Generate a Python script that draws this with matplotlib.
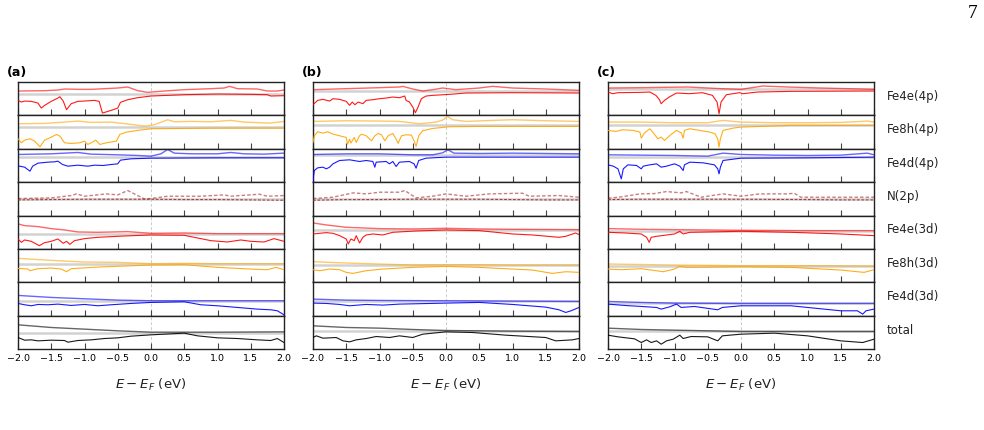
import numpy as np
import matplotlib.pyplot as plt

rows = ["Fe4e(4p)", "Fe8h(4p)", "Fe4d(4p)", "N(2p)",
        "Fe4e(3d)", "Fe8h(3d)", "Fe4d(3d)", "total"]
row_colors = ["red", "orange", "blue", "brown", "red", "orange", "blue", "black"]
xticks = [-2.0, -1.5, -1.0, -0.5, 0.0, 0.5, 1.0, 1.5, 2.0]

# (E - E_F, DOS) pairs, arbitrary units
# up = spin up (above zero line), dn = spin down (below)

# ---- panel (a) ----
a_fe4e4p_up = [(-2.0, 0.8), (-1.6, 0.9), (-1.4, 1.1), (-1.3, 1.4), (-1.1, 1.3), (-0.9, 1.3), (-0.7, 1.5),
               (-0.5, 1.7), (-0.35, 2.0), (-0.2, 0.9), (-0.05, 0.4), (0.2, 0.8), (0.5, 1.2), (0.9, 1.5),
               (1.1, 1.7), (1.18, 2.2), (1.3, 1.5), (1.6, 1.4), (1.75, 0.8), (1.9, 0.8), (2.0, 1.1)]
a_fe4e4p_dn = [(-2.0, -2.0), (-1.95, -2.5), (-1.9, -2.2), (-1.8, -2.3), (-1.7, -2.8), (-1.65, -4.3),
               (-1.6, -3.5), (-1.5, -2.3), (-1.4, -1.3), (-1.37, -0.9), (-1.32, -2.2), (-1.27, -4.8),
               (-1.2, -3.0), (-1.1, -2.3), (-1.0, -2.2), (-0.85, -2.0), (-0.78, -2.3), (-0.73, -5.8),
               (-0.6, -5.0), (-0.5, -4.3), (-0.46, -2.6), (-0.35, -1.8), (-0.2, -1.2), (0.0, -0.7),
               (0.5, -0.3), (1.0, -0.1), (1.5, -0.2), (1.75, -0.3), (1.8, -0.7), (2.0, -0.6)]
a_fe8h4p_up = [(-2.0, 1.0), (-1.6, 1.1), (-1.3, 1.5), (-1.1, 1.8), (-0.9, 1.4), (-0.6, 1.5), (-0.3, 0.8),
               (-0.1, 0.3), (0.05, 0.7), (0.25, 2.2), (0.35, 1.6), (0.6, 1.7), (0.9, 1.6), (1.2, 2.0),
               (1.4, 1.5), (1.65, 1.3), (1.8, 1.2), (2.0, 1.7)]
a_fe8h4p_dn = [(-2.0, -3.5), (-1.95, -4.7), (-1.9, -3.9), (-1.82, -3.5), (-1.75, -4.2), (-1.67, -5.9),
               (-1.6, -3.9), (-1.52, -3.2), (-1.42, -2.2), (-1.37, -2.7), (-1.3, -4.7), (-1.2, -4.9),
               (-1.07, -4.7), (-1.0, -4.2), (-0.95, -5.2), (-0.88, -4.5), (-0.83, -3.9), (-0.77, -5.2),
               (-0.67, -4.7), (-0.52, -4.2), (-0.47, -2.2), (-0.37, -1.5), (-0.17, -0.9), (0.0, -0.5),
               (0.5, -0.4), (1.0, -0.3), (1.5, -0.3), (2.0, -0.3)]
a_fe4d4p_up = [(-2.0, 0.8), (-1.5, 1.0), (-1.1, 1.4), (-0.9, 0.9), (-0.5, 0.7), (-0.2, 0.5), (0.0, 0.3),
               (0.15, 1.0), (0.25, 2.3), (0.35, 1.2), (0.6, 1.0), (1.0, 1.0), (1.2, 1.4), (1.4, 1.0),
               (1.7, 0.9), (2.0, 1.2)]
a_fe4d4p_dn = [(-2.0, -2.6), (-1.9, -3.0), (-1.82, -4.2), (-1.78, -2.7), (-1.7, -1.8), (-1.55, -1.5),
               (-1.45, -1.4), (-1.4, -1.2), (-1.33, -2.2), (-1.25, -2.7), (-1.1, -2.4), (-0.95, -2.7),
               (-0.85, -2.4), (-0.72, -2.5), (-0.6, -2.2), (-0.5, -2.0), (-0.46, -0.9), (-0.3, -0.5),
               (0.0, -0.3), (1.0, -0.2), (2.0, -0.2)]
a_n2p_up = [(-2.0, 0.1), (-1.5, 0.3), (-1.2, 1.0), (-1.12, 1.5), (-1.0, 0.8), (-0.67, 1.5), (-0.5, 1.2),
            (-0.35, 2.5), (-0.1, 0.0), (0.0, 0.1), (0.25, 0.8), (0.75, 0.8), (1.1, 1.2), (1.2, 0.8),
            (1.63, 1.4), (1.75, 0.8), (2.0, 1.0)]
a_n2p_dn = [(-2.0, -0.3), (-1.5, -0.2), (-1.0, -0.1), (-0.5, -0.1), (0.0, -0.1), (0.5, -0.2),
            (1.0, -0.2), (1.5, -0.3), (2.0, -0.4)]
a_fe4e3d_up = [(-2.0, 3.0), (-1.9, 2.5), (-1.7, 2.2), (-1.5, 1.6), (-1.3, 1.2), (-1.1, 0.6), (-0.8, 0.5),
               (-0.35, 0.7), (0.0, 0.2), (0.5, 0.3), (1.0, 0.1), (2.0, 0.1)]
a_fe4e3d_dn = [(-2.0, -1.5), (-1.95, -2.5), (-1.9, -1.8), (-1.8, -2.2), (-1.68, -3.5), (-1.6, -2.6),
               (-1.5, -2.2), (-1.4, -1.5), (-1.32, -2.8), (-1.27, -2.2), (-1.22, -3.1), (-1.15, -2.0),
               (-1.0, -1.4), (-0.8, -1.0), (-0.4, -0.6), (0.0, -0.3), (0.5, -0.4), (0.7, -1.2),
               (0.9, -2.0), (1.15, -2.4), (1.35, -1.8), (1.5, -2.2), (1.7, -2.4), (1.85, -1.4), (2.0, -2.2)]
a_fe8h3d_up = [(-2.0, 1.7), (-1.5, 1.1), (-1.0, 0.6), (-0.5, 0.5), (0.0, 0.1), (0.5, 0.2), (1.0, 0.1),
               (2.0, 0.1)]
a_fe8h3d_dn = [(-2.0, -1.3), (-1.85, -1.5), (-1.82, -2.0), (-1.7, -1.4), (-1.5, -1.2), (-1.35, -1.5),
               (-1.27, -2.3), (-1.2, -1.4), (-0.8, -0.9), (-0.4, -0.6), (0.0, -0.3), (0.5, -0.2),
               (1.0, -1.0), (1.5, -1.5), (1.75, -1.7), (1.88, -1.0), (2.0, -1.7)]
a_fe4d3d_up = [(-2.0, 1.8), (-1.5, 1.2), (-1.0, 0.8), (-0.5, 0.4), (0.0, 0.2), (1.0, 0.2), (2.0, 0.2)]
a_fe4d3d_dn = [(-2.0, -0.6), (-1.9, -1.0), (-1.8, -1.3), (-1.7, -0.9), (-1.55, -1.0), (-1.4, -0.8),
               (-1.2, -1.2), (-1.0, -0.9), (-0.8, -1.3), (-0.6, -1.0), (-0.3, -0.6), (0.0, -0.3),
               (0.5, -0.1), (0.75, -1.0), (1.0, -1.3), (1.3, -1.8), (1.6, -2.3), (1.8, -2.5),
               (1.9, -2.8), (2.0, -4.0)]
a_total_up = [(-2.0, 2.3), (-1.5, 1.5), (-1.0, 1.0), (-0.5, 0.5), (0.0, 0.1), (0.5, 0.1), (1.0, 0.1),
              (2.0, 0.2)]
a_total_dn = [(-2.0, -1.5), (-1.9, -2.3), (-1.8, -2.2), (-1.7, -2.5), (-1.5, -2.3), (-1.3, -2.4),
              (-1.25, -2.9), (-1.1, -2.4), (-0.9, -2.2), (-0.7, -1.8), (-0.5, -1.6), (-0.3, -1.1),
              (0.0, -0.7), (0.5, -0.2), (0.7, -1.0), (1.0, -1.6), (1.3, -1.8), (1.6, -2.2),
              (1.8, -2.4), (1.9, -1.8), (2.0, -3.0)]

# ---- panel (b) ----
b_fe4e4p_up = [(-2.0, 0.4), (-1.5, 0.7), (-1.0, 1.0), (-0.7, 1.2), (-0.65, 1.4), (-0.5, 0.6), (-0.35, 0.0),
               (-0.2, 0.4), (-0.05, 0.9), (0.15, 0.4), (0.5, 0.9), (0.7, 1.4), (1.0, 0.9), (1.5, 0.6),
               (2.0, 0.2)]
b_fe4e4p_dn = [(-2.0, -4.1), (-1.93, -2.8), (-1.85, -2.5), (-1.75, -3.0), (-1.7, -2.3), (-1.6, -2.5),
               (-1.5, -3.1), (-1.45, -4.3), (-1.41, -3.3), (-1.37, -4.1), (-1.32, -3.3), (-1.25, -3.8),
               (-1.2, -2.8), (-1.1, -2.6), (-1.0, -2.3), (-0.9, -2.1), (-0.8, -1.8), (-0.7, -2.0),
               (-0.62, -1.5), (-0.6, -2.8), (-0.55, -3.3), (-0.5, -4.8), (-0.46, -6.5), (-0.42, -4.8),
               (-0.37, -2.3), (-0.3, -1.5), (-0.2, -1.3), (0.05, -1.0), (0.3, -0.6), (1.0, -0.5),
               (2.0, -0.6)]
b_fe8h4p_up = [(-2.0, 1.0), (-1.5, 1.2), (-1.0, 1.1), (-0.7, 1.0), (-0.4, 0.3), (-0.15, 0.8), (-0.05, 1.4),
               (0.02, 2.5), (0.1, 1.5), (0.3, 1.0), (0.7, 1.3), (1.0, 1.5), (1.5, 1.2), (2.0, 1.0)]
b_fe8h4p_dn = [(-2.0, -5.3), (-1.98, -3.3), (-1.93, -2.1), (-1.85, -2.5), (-1.78, -2.1), (-1.7, -2.8),
               (-1.6, -3.3), (-1.5, -3.8), (-1.48, -5.8), (-1.45, -4.3), (-1.43, -5.5), (-1.38, -3.8),
               (-1.35, -5.3), (-1.3, -3.3), (-1.27, -2.8), (-1.2, -3.3), (-1.12, -4.8), (-1.07, -3.3),
               (-1.02, -2.6), (-0.97, -3.0), (-0.92, -4.8), (-0.87, -3.3), (-0.8, -2.6), (-0.75, -4.3),
               (-0.72, -5.6), (-0.67, -3.3), (-0.6, -3.0), (-0.52, -3.1), (-0.47, -5.3), (-0.45, -6.5),
               (-0.41, -3.3), (-0.35, -1.8), (-0.2, -1.1), (0.05, -0.6), (0.5, -0.5), (2.0, -0.5)]
b_fe4d4p_up = [(-2.0, 0.3), (-1.5, 0.5), (-1.0, 0.5), (-0.5, 0.2), (-0.2, 0.2), (-0.05, 0.8), (0.03, 1.7),
               (0.12, 0.7), (0.5, 0.6), (1.0, 0.7), (1.5, 0.6), (2.0, 0.5)]
b_fe4d4p_dn = [(-2.0, -7.5), (-1.98, -4.5), (-1.93, -3.7), (-1.85, -3.5), (-1.8, -4.0), (-1.75, -3.5),
               (-1.7, -2.5), (-1.6, -1.5), (-1.45, -1.3), (-1.3, -1.8), (-1.2, -1.5), (-1.1, -1.8),
               (-1.07, -3.5), (-1.05, -2.0), (-0.9, -1.8), (-0.85, -2.5), (-0.8, -1.8), (-0.75, -3.3),
               (-0.7, -2.0), (-0.55, -1.8), (-0.48, -2.5), (-0.45, -3.8), (-0.41, -1.5), (-0.3, -0.8),
               (0.0, -0.5), (1.0, -0.5), (2.0, -0.5)]
b_n2p_up = [(-2.0, 0.1), (-1.7, 0.5), (-1.4, 1.8), (-1.2, 1.5), (-1.0, 2.0), (-0.7, 2.0), (-0.62, 2.5),
            (-0.45, 0.3), (-0.2, 0.8), (0.0, 1.5), (0.3, 0.8), (0.65, 1.5), (1.15, 1.7), (1.25, 0.8),
            (1.7, 1.0), (2.0, 0.5)]
b_n2p_dn = [(-2.0, -0.4), (-1.5, -0.2), (-1.0, -0.2), (-0.5, -0.1), (0.0, -0.1), (0.5, -0.1),
            (1.0, -0.2), (1.5, -0.3), (2.0, -0.3)]
b_fe4e3d_up = [(-2.0, 2.0), (-1.8, 1.4), (-1.5, 0.7), (-1.0, 0.3), (-0.5, 0.2), (0.0, 0.4), (0.5, 0.2),
               (1.0, 0.1), (2.0, 0.0)]
b_fe4e3d_dn = [(-2.0, -1.3), (-1.9, -1.1), (-1.8, -0.9), (-1.7, -1.1), (-1.6, -1.8), (-1.5, -2.8),
               (-1.47, -4.3), (-1.43, -2.8), (-1.38, -3.3), (-1.35, -1.8), (-1.3, -4.0), (-1.25, -2.3),
               (-1.2, -1.6), (-1.1, -1.3), (-0.95, -1.6), (-0.8, -0.8), (-0.45, -0.4), (0.0, -0.1),
               (0.5, -0.3), (1.0, -1.3), (1.3, -1.6), (1.7, -2.3), (1.8, -2.0), (1.95, -1.0), (2.0, -1.5)]
b_fe8h3d_up = [(-2.0, 1.0), (-1.5, 0.6), (-1.0, 0.3), (-0.5, 0.0), (0.0, 0.1), (0.5, 0.1), (1.0, 0.0),
               (2.0, 0.0)]
b_fe8h3d_dn = [(-2.0, -1.4), (-1.9, -1.7), (-1.75, -1.2), (-1.6, -1.4), (-1.5, -2.2), (-1.4, -2.5),
               (-1.2, -1.7), (-0.95, -1.2), (-0.5, -0.7), (0.0, -0.4), (0.5, -0.7), (1.0, -1.2),
               (1.3, -1.5), (1.6, -2.5), (1.8, -2.0), (2.0, -2.2)]
b_fe4d3d_up = [(-2.0, 0.7), (-1.5, 0.4), (-1.0, 0.3), (0.0, 0.2), (1.0, 0.1), (2.0, 0.0)]
b_fe4d3d_dn = [(-2.0, -0.5), (-1.8, -0.6), (-1.6, -0.9), (-1.45, -1.3), (-1.2, -0.9), (-0.95, -1.1),
               (-0.7, -0.8), (0.0, -0.5), (0.5, -0.3), (1.0, -0.9), (1.5, -1.7), (1.7, -2.5),
               (1.8, -3.3), (1.88, -2.8), (2.0, -1.8)]
b_total_up = [(-2.0, 1.7), (-1.5, 1.2), (-1.0, 1.0), (-0.5, 0.6), (0.0, 0.3), (0.5, 0.2), (1.0, 0.1),
              (2.0, 0.0)]
b_total_dn = [(-2.0, -1.8), (-1.95, -1.3), (-1.85, -2.0), (-1.65, -1.8), (-1.55, -2.8), (-1.45, -3.1),
              (-1.35, -2.5), (-1.2, -2.1), (-1.05, -1.5), (-0.85, -1.8), (-0.7, -1.3), (-0.5, -1.8),
              (-0.35, -0.8), (0.0, -0.1), (0.4, -0.3), (0.9, -1.1), (1.5, -1.8), (1.65, -2.8),
              (1.9, -2.5), (2.0, -2.1)]

# ---- panel (c) ----
c_fe4e4p_up = [(-2.0, 0.4), (-1.5, 0.5), (-0.8, 0.7), (-0.3, 0.2), (0.0, 0.0), (0.33, 1.0), (0.7, 0.7),
               (1.2, 0.4), (1.6, 0.2), (2.0, 0.0)]
c_fe4e4p_dn = [(-2.0, -0.8), (-1.93, -1.3), (-1.85, -1.0), (-1.5, -0.9), (-1.37, -0.8), (-1.28, -1.8),
               (-1.23, -3.0), (-1.2, -4.3), (-1.15, -3.3), (-1.08, -2.3), (-0.97, -1.1), (-0.78, -1.3),
               (-0.58, -1.0), (-0.43, -1.8), (-0.36, -3.8), (-0.33, -7.3), (-0.3, -3.8), (-0.22, -1.6),
               (-0.02, -1.0), (0.03, -1.3), (0.25, -0.8), (0.75, -0.6), (2.0, -0.5)]
c_fe8h4p_up = [(-2.0, 0.8), (-1.5, 0.8), (-1.0, 0.6), (-0.5, 0.6), (-0.27, 1.3), (0.0, 0.8), (0.5, 0.6),
               (1.0, 0.6), (1.5, 0.7), (1.9, 1.1), (2.0, 0.8)]
c_fe8h4p_dn = [(-2.0, -1.7), (-1.88, -2.0), (-1.78, -1.5), (-1.62, -1.7), (-1.52, -2.2), (-1.5, -4.0),
               (-1.45, -2.4), (-1.37, -1.2), (-1.32, -2.4), (-1.25, -4.2), (-1.2, -3.7), (-1.15, -4.7),
               (-1.07, -3.2), (-0.97, -1.7), (-0.9, -2.4), (-0.87, -4.0), (-0.85, -1.7), (-0.77, -1.2),
               (-0.62, -1.7), (-0.47, -2.2), (-0.39, -2.7), (-0.35, -4.2), (-0.33, -6.7), (-0.31, -4.2),
               (-0.27, -1.7), (-0.12, -1.0), (0.0, -0.7), (0.75, -0.2), (2.0, -0.2)]
c_fe4d4p_up = [(-2.0, 0.7), (-1.5, 0.6), (-1.0, 0.5), (-0.5, 0.3), (-0.27, 1.2), (0.0, 0.8), (0.5, 0.6),
               (1.0, 0.5), (1.5, 0.6), (1.9, 1.2), (2.0, 0.7)]
c_fe4d4p_dn = [(-2.0, -2.3), (-1.92, -2.7), (-1.85, -3.5), (-1.8, -6.5), (-1.77, -3.5), (-1.7, -2.3),
               (-1.57, -2.5), (-1.5, -3.5), (-1.47, -2.7), (-1.37, -2.3), (-1.27, -2.0), (-1.2, -3.0),
               (-1.12, -2.7), (-1.0, -2.0), (-0.92, -2.7), (-0.87, -4.0), (-0.85, -2.3), (-0.77, -1.5),
               (-0.57, -1.7), (-0.4, -2.3), (-0.35, -3.5), (-0.33, -5.0), (-0.31, -3.0), (-0.27, -1.0),
               (0.0, -0.3), (1.0, -0.2), (2.0, 0.0)]
c_n2p_up = [(-2.0, 0.2), (-1.8, 0.6), (-1.52, 1.5), (-1.3, 1.6), (-1.12, 2.2), (-0.9, 1.8), (-0.82, 2.2),
            (-0.6, 0.5), (-0.27, 1.5), (0.0, 0.8), (0.28, 1.5), (0.7, 1.5), (0.8, 1.7), (0.9, 0.5),
            (1.3, 0.5), (2.0, 0.5)]
c_n2p_dn = [(-2.0, -0.2), (-1.5, -0.1), (-1.0, -0.1), (0.0, -0.1), (1.0, -0.2), (1.5, -0.3), (2.0, -0.3)]
c_fe4e3d_up = [(-2.0, 0.6), (-1.5, 0.4), (-1.0, 0.3), (0.0, 0.1), (1.0, 0.0), (2.0, 0.0)]
c_fe4e3d_dn = [(-2.0, -0.5), (-1.75, -0.7), (-1.5, -1.0), (-1.42, -2.0), (-1.38, -3.5), (-1.35, -2.0),
               (-1.27, -1.7), (-1.0, -1.0), (-0.92, -0.2), (-0.87, -1.0), (-0.77, -0.5), (0.0, -0.2),
               (0.75, -0.5), (1.5, -1.0), (2.0, -1.5)]
c_fe8h3d_up = [(-2.0, 0.5), (-1.0, 0.2), (0.0, 0.0), (1.0, 0.0), (2.0, -0.1)]
c_fe8h3d_dn = [(-2.0, -1.0), (-1.8, -1.2), (-1.5, -0.9), (-1.35, -1.3), (-1.17, -1.8), (-1.0, -1.0),
               (-0.93, -0.2), (-0.8, -0.5), (0.0, -0.3), (0.75, -0.5), (1.5, -1.3), (1.85, -2.0),
               (2.0, -1.2)]
c_fe4d3d_up = [(-2.0, 0.6), (-1.5, 0.3), (-1.0, 0.1), (0.0, 0.0), (2.0, 0.0)]
c_fe4d3d_dn = [(-2.0, -0.2), (-1.75, -0.6), (-1.5, -0.9), (-1.27, -1.2), (-1.2, -1.7), (-1.07, -1.0),
               (-0.97, -0.2), (-0.9, -1.2), (-0.7, -0.9), (-0.35, -1.9), (-0.28, -1.2), (0.0, -0.7),
               (0.75, -0.7), (1.5, -2.2), (1.75, -2.2), (1.83, -3.2), (1.88, -2.2), (2.0, -1.7)]
c_total_up = [(-2.0, 1.0), (-1.5, 0.6), (-1.0, 0.4), (-0.5, 0.2), (0.0, 0.0), (2.0, 0.0)]
c_total_dn = [(-2.0, -1.1), (-1.85, -1.6), (-1.6, -2.2), (-1.5, -3.3), (-1.42, -2.5), (-1.35, -3.3),
              (-1.27, -2.8), (-1.2, -3.8), (-1.12, -2.8), (-1.02, -2.3), (-0.92, -1.1), (-0.87, -2.1),
              (-0.75, -1.5), (-0.5, -1.6), (-0.35, -2.8), (-0.28, -1.3), (0.0, -0.8), (0.5, -0.5),
              (1.0, -1.3), (1.5, -2.8), (1.83, -3.3), (2.0, -2.3)]

panel_a = [(a_fe4e4p_up, a_fe4e4p_dn), (a_fe8h4p_up, a_fe8h4p_dn), (a_fe4d4p_up, a_fe4d4p_dn),
           (a_n2p_up, a_n2p_dn), (a_fe4e3d_up, a_fe4e3d_dn), (a_fe8h3d_up, a_fe8h3d_dn),
           (a_fe4d3d_up, a_fe4d3d_dn), (a_total_up, a_total_dn)]
panel_b = [(b_fe4e4p_up, b_fe4e4p_dn), (b_fe8h4p_up, b_fe8h4p_dn), (b_fe4d4p_up, b_fe4d4p_dn),
           (b_n2p_up, b_n2p_dn), (b_fe4e3d_up, b_fe4e3d_dn), (b_fe8h3d_up, b_fe8h3d_dn),
           (b_fe4d3d_up, b_fe4d3d_dn), (b_total_up, b_total_dn)]
panel_c = [(c_fe4e4p_up, c_fe4e4p_dn), (c_fe8h4p_up, c_fe8h4p_dn), (c_fe4d4p_up, c_fe4d4p_dn),
           (c_n2p_up, c_n2p_dn), (c_fe4e3d_up, c_fe4e3d_dn), (c_fe8h3d_up, c_fe8h3d_dn),
           (c_fe4d3d_up, c_fe4d3d_dn), (c_total_up, c_total_dn)]

# where the zero line sits in each row (fraction of row height), per panel
zero_a = [0.65, 0.65, 0.75, 0.50, 0.45, 0.55, 0.43, 0.50]
zero_b = [0.73, 0.72, 0.80, 0.50, 0.58, 0.52, 0.43, 0.53]
zero_c = [0.78, 0.72, 0.75, 0.50, 0.55, 0.50, 0.37, 0.53]

# ── layout ──────────────────────────────────────────────────────────────
fig = plt.figure(figsize=(9.84, 4.31), dpi=100)
lefts = [18 / 984, 313 / 984, 608 / 984]
width = 266 / 984
top, bottom = 1 - 83 / 431, 1 - 350.2 / 431
h = (top - bottom) / 8
span = 10.0  # data units per row height

panels = [("(a)", panel_a, zero_a), ("(b)", panel_b, zero_b), ("(c)", panel_c, zero_c)]

for p, (tag, curves, zeros) in enumerate(panels):
    left = lefts[p]
    for r in range(8):
        ax = fig.add_axes([left, top - (r + 1) * h, width, h])
        up, dn = curves[r]
        col = row_colors[r]
        ls = (0, (2.5, 1.5)) if rows[r] == "N(2p)" else "-"

        ax.axhline(0, color="#d2d2d2", lw=1.8, zorder=1)
        ax.axvline(0, color="#cccccc", lw=0.7, ls=(0, (3, 2)), zorder=1)
        ux, uy = zip(*up)
        dx, dy = zip(*dn)
        ax.plot(ux, uy, color=col, lw=1.0, alpha=0.6, ls=ls, zorder=2)
        ax.plot(dx, dy, color=col, lw=0.8, alpha=0.9, ls=ls, zorder=3)

        ax.set_xlim(-2, 2)
        ax.set_ylim(-span * zeros[r], span * (1 - zeros[r]))
        ax.set_yticks([])
        ax.set_xticks(xticks)
        ax.tick_params(axis="x", direction="in", length=4, width=0.8, color="#444444",
                       labelsize=6.8, pad=3, labelbottom=(r == 7))
        for s in ax.spines.values():
            s.set_linewidth(1.0)
            s.set_color("#222222")

        if p == 2:
            ax.text(1.048, 0.6, rows[r], transform=ax.transAxes, fontsize=8.5,
                    va="center", ha="left", color="#222222")

    fig.text(left - 11 / 984, 1 - 72.5 / 431, tag, fontsize=9, fontweight="bold",
             va="center", ha="left")
    fig.text(left + width / 2, 1 - 385 / 431, r"$E - E_F$ (eV)", fontsize=9.5,
             va="center", ha="center", color="#222222")

fig.text(973 / 984, 1 - 13 / 431, "7", fontsize=14, family="Liberation Serif",
         va="center", ha="center")

fig.savefig("out.png", dpi=100)
